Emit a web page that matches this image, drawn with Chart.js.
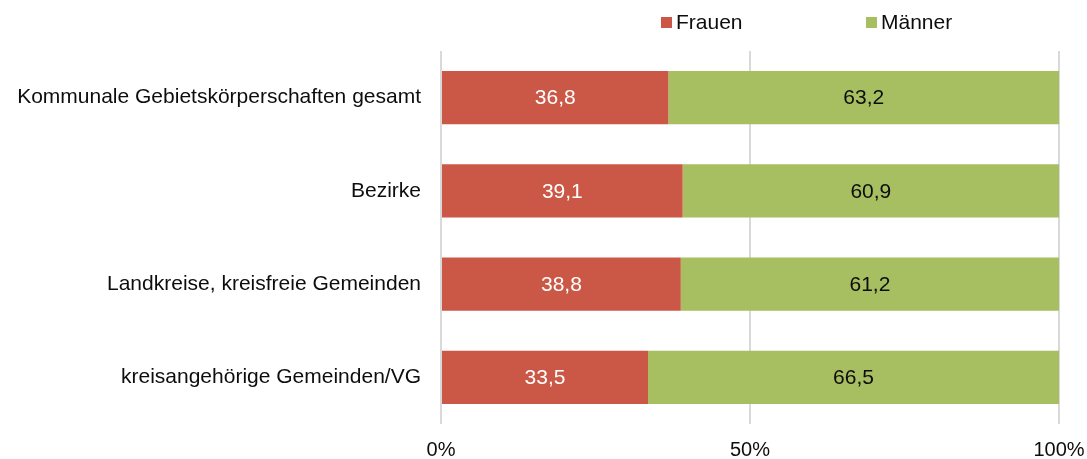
<!DOCTYPE html>
<html>
<head>
<meta charset="utf-8">
<script src="https://cdn.jsdelivr.net/npm/chart.js@4.4.1/dist/chart.umd.min.js"></script>
<style>
html,body{margin:0;padding:0;background:#fff;}
#wrap{width:1087px;height:459px;position:relative;}
</style>
</head>
<body>
<div id="wrap"><canvas id="c" width="1087" height="459"></canvas></div>
<script>
const categories = [
  "Kommunale Gebietskörperschaften gesamt",
  "Bezirke",
  "Landkreise, kreisfreie Gemeinden",
  "kreisangehörige Gemeinden/VG"
];
const frauen = [36.8, 39.1, 38.8, 33.5];
const maenner = [63.2, 60.9, 61.2, 66.5];
const seriesNames = ["Frauen", "Männer"];
const xTicks = [0, 50, 100];

const FONT = '"Liberation Sans", Arial, sans-serif';
const RED = '#CB5846';
const GREEN = '#A7BE61';
const TEXT = '#0d0d0d';
const labelColors = ['#ffffff', TEXT];

const fmt = v => v.toFixed(1).replace('.', ',');

const valueLabels = {
  id: 'valueLabels',
  afterDatasetsDraw(chart) {
    const ctx = chart.ctx;
    ctx.save();
    ctx.font = '21px ' + FONT;
    ctx.textAlign = 'center';
    ctx.textBaseline = 'middle';
    chart.data.datasets.forEach((ds, di) => {
      const meta = chart.getDatasetMeta(di);
      meta.data.forEach((bar, i) => {
        const p = bar.getProps(['x', 'y', 'base'], true);
        ctx.fillStyle = labelColors[di];
        ctx.fillText(fmt(ds.data[i]), (p.x + p.base) / 2, p.y + 1);
      });
    });
    ctx.restore();
  }
};

const customLegend = {
  id: 'customLegend',
  afterDraw(chart) {
    const ctx = chart.ctx;
    const a = chart.chartArea;
    ctx.save();
    ctx.font = '21px ' + FONT;
    ctx.textBaseline = 'middle';
    ctx.textAlign = 'left';
    let x = a.left + 220;
    const y = 23;
    chart.data.datasets.forEach((ds, di) => {
      ctx.fillStyle = ds.backgroundColor;
      ctx.fillRect(x, y - 6, 11, 11);
      ctx.fillStyle = TEXT;
      ctx.fillText(ds.label, x + 15, y);
      x += 205;
    });
    ctx.restore();
  }
};

new Chart(document.getElementById('c'), {
  type: 'bar',
  data: {
    labels: categories,
    datasets: [
      { label: seriesNames[0], data: frauen, backgroundColor: RED, borderWidth: 0 },
      { label: seriesNames[1], data: maenner, backgroundColor: GREEN, borderWidth: 0 }
    ]
  },
  options: {
    indexAxis: 'y',
    responsive: false,
    animation: false,
    devicePixelRatio: 1,
    layout: { padding: { top: 51, right: 28, bottom: 0, left: 0 } },
    datasets: { bar: { categoryPercentage: 1, barPercentage: 0.57 } },
    plugins: {
      legend: { display: false },
      tooltip: { enabled: false }
    },
    scales: {
      x: {
        stacked: true,
        min: 0,
        max: 100,
        afterBuildTicks: s => { s.ticks = xTicks.map(v => ({ value: v })); },
        afterFit: s => { s.height = 35; s.paddingLeft = 0; s.paddingRight = 0; },
        ticks: {
          callback: v => v + '%',
          color: TEXT,
          font: { size: 20, family: FONT },
          padding: 14,
          maxRotation: 0
        },
        grid: { color: '#D9D9D9', lineWidth: 2, drawTicks: false },
        border: { display: false }
      },
      y: {
        stacked: true,
        afterFit: s => { s.width = 441; s.paddingTop = 0; s.paddingBottom = 0; },
        ticks: {
          color: TEXT,
          font: { size: 21, family: FONT },
          padding: 20
        },
        grid: { display: false, drawTicks: false },
        border: { display: false }
      }
    }
  },
  plugins: [valueLabels, customLegend]
});
</script>
</body>
</html>
